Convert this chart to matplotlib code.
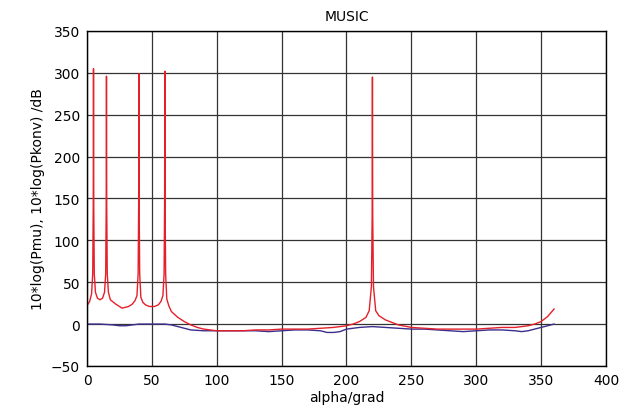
import matplotlib
matplotlib.use("Agg")
import matplotlib.pyplot as plt

# MUSIC spectrum (red) and conventional beamformer (blue), dB vs angle
alpha_mu = [0, 2, 3.5, 4.4, 4.8, 5, 5.2, 5.6, 6.5, 8, 10, 12, 13.5, 14.4, 14.8,
            15, 15.2, 15.6, 16.5, 18, 22, 27, 32, 35, 37, 38.5, 39.4, 39.8, 40,
            40.2, 40.6, 41.5, 43, 45, 48, 52, 55, 57, 58.5, 59.4, 59.8, 60,
            60.2, 60.6, 61.5, 63, 65, 70, 75, 80, 85, 90, 95, 100, 110, 120, 130,
            140, 150, 160, 170, 180, 190, 200, 205, 210, 215, 217.5, 219.2,
            219.8, 220, 220.2, 220.8, 222.5, 225, 230, 240, 250, 260, 270, 280,
            290, 300, 310, 320, 330, 340, 345, 350, 355, 360]
p_mu = [22, 27, 36, 60, 140, 305, 140, 60, 38, 31, 29, 31, 38, 60, 140,
        296, 140, 60, 38, 29, 24, 19, 21, 24, 28, 34, 60, 140, 299,
        140, 60, 32, 26, 23, 21, 21, 23, 27, 34, 60, 140, 302,
        140, 60, 30, 22, 15, 8, 3, -1, -4, -6, -7, -8, -8, -8, -7,
        -7, -6, -6, -6, -5, -4, -2, 0, 3, 8, 16, 45,
        130, 295, 130, 45, 16, 10, 5, -1, -4, -5, -6, -6,
        -6, -6, -5, -4, -4, -2, 0, 3, 9, 18]

alpha_konv = [0, 10, 20, 25, 30, 35, 40, 50, 60, 65, 70, 80, 90, 100, 110, 120,
              130, 140, 150, 160, 170, 180, 185, 190, 195, 200, 210, 220, 230,
              240, 250, 260, 270, 280, 290, 300, 310, 320, 330, 335, 340, 345,
              350, 355, 360]
p_konv = [0, 0, -1, -2, -2, -1, 0, 0, 0, -1, -3, -7, -8, -8, -8, -8,
          -8, -9, -8, -7, -7, -8, -10, -10, -9, -6, -4, -3, -4,
          -5, -6, -6, -7, -8, -9, -8, -7, -7, -8, -9, -8, -6,
          -4, -2, 0]

fig, ax = plt.subplots(figsize=(6.26, 4.10), dpi=100)
fig.subplots_adjust(left=0.139, right=0.968, top=0.922, bottom=0.105)

ax.plot(alpha_konv, p_konv, color="#3b2e8c", lw=1.0)
ax.plot(alpha_mu, p_mu, color="#e4202a", lw=1.0)

ax.set_xlim(0, 400)
ax.set_ylim(-50, 350)
ax.set_xticks(range(0, 401, 50))
ax.set_yticks(range(-50, 351, 50))
ax.grid(True, color="#333333", lw=0.9)
ax.set_axisbelow(True)
ax.tick_params(length=0, pad=5, labelsize=10)
for s in ax.spines.values():
    s.set_linewidth(1.0)

ax.set_title("MUSIC", fontsize=10, pad=8)
ax.set_xlabel("alpha/grad", fontsize=10, labelpad=2)
ax.set_ylabel("10*log(Pmu), 10*log(Pkonv) /dB", fontsize=10)

fig.savefig("out.png", dpi=100)
